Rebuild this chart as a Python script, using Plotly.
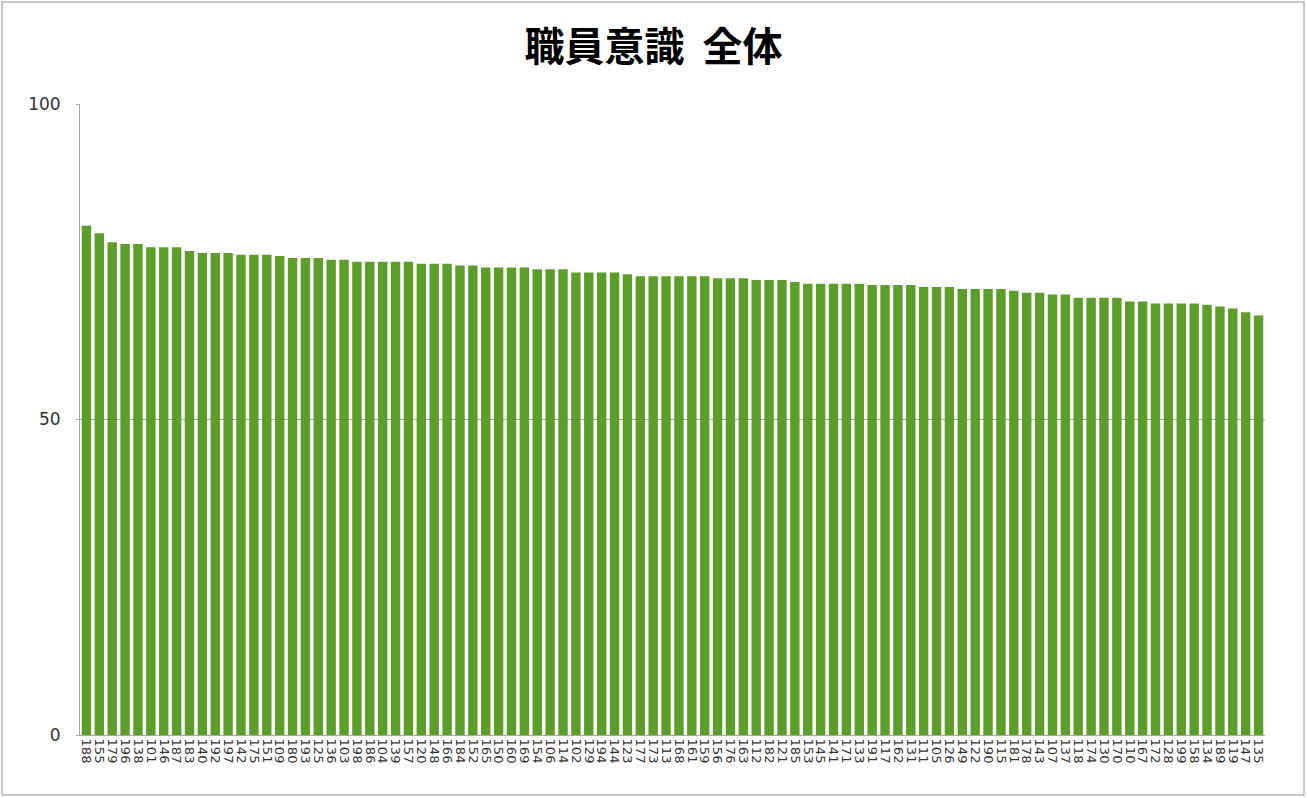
import plotly.graph_objects as go

# Staff survey: overall score per unit, sorted high to low
units = [
    "188", "155", "179", "196", "138", "101", "146", "187", "183", "140",
    "192", "197", "142", "175", "151", "109", "180", "193", "125", "136",
    "103", "198", "186", "104", "139", "157", "120", "148", "166", "184",
    "152", "165", "150", "160", "169", "154", "106", "114", "102", "129",
    "194", "144", "123", "177", "173", "113", "168", "161", "159", "156",
    "176", "163", "112", "182", "121", "185", "153", "145", "141", "171",
    "133", "191", "117", "162", "131", "111", "105", "126", "149", "122",
    "190", "115", "181", "178", "143", "107", "137", "118", "174", "130",
    "170", "110", "167", "172", "128", "199", "158", "134", "189", "119",
    "147", "135",
]
scores = [
    80.7, 79.5, 78.1, 77.8, 77.8, 77.3, 77.3, 77.3, 76.7, 76.4,
    76.4, 76.4, 76.1, 76.1, 76.1, 75.9, 75.6, 75.6, 75.6, 75.3,
    75.3, 75.0, 75.0, 75.0, 75.0, 75.0, 74.7, 74.7, 74.7, 74.4,
    74.4, 74.1, 74.1, 74.1, 74.1, 73.8, 73.8, 73.8, 73.3, 73.3,
    73.3, 73.3, 73.0, 72.7, 72.7, 72.7, 72.7, 72.7, 72.7, 72.4,
    72.4, 72.4, 72.1, 72.1, 72.1, 71.8, 71.5, 71.5, 71.5, 71.5,
    71.5, 71.3, 71.3, 71.3, 71.3, 71.0, 71.0, 71.0, 70.7, 70.7,
    70.7, 70.7, 70.4, 70.1, 70.1, 69.8, 69.8, 69.3, 69.3, 69.3,
    69.3, 68.7, 68.7, 68.4, 68.4, 68.4, 68.4, 68.2, 67.9, 67.6,
    67.0, 66.5,
]
y_ticks = [0, 50, 100]

W, H = 1307, 798
ML, MR, MT, MB = 80, 42, 104, 63
pw, ph = W - ML - MR, H - MT - MB


def px_x(x):
    return (x - ML) / pw


def px_y(y):
    return (H - MB - y) / ph


fig = go.Figure(
    go.Bar(
        x=units,
        y=scores,
        marker=dict(color="#5C9E29", line=dict(width=0)),
        hoverinfo="x+y",
    )
)

fig.update_layout(
    width=W,
    height=H,
    margin=dict(l=ML, r=MR, t=MT, b=MB, autoexpand=False),
    paper_bgcolor="white",
    plot_bgcolor="white",
    bargap=0.27,
    showlegend=False,
    font=dict(family="Noto Sans CJK JP, Noto Sans, sans-serif", color="#333333"),
    title=dict(
        text="<b>職員意識&nbsp; 全体</b>",
        x=0.5,
        xanchor="center",
        y=1 - 47 / H,
        yanchor="middle",
        font=dict(size=40, color="#000000",
                  family="Noto Sans CJK JP, sans-serif"),
    ),
    xaxis=dict(
        type="category",
        tickmode="array",
        tickvals=units,
        ticktext=units,
        tickangle=90,
        tickfont=dict(size=13, color="#333333", family="DejaVu Sans, sans-serif"),
        showgrid=False,
        showline=True,
        linecolor="#a6a6a6",
        linewidth=1,
        ticks="",
        automargin=False,
    ),
    yaxis=dict(
        range=[0, 100],
        tickvals=y_ticks,
        ticktext=[str(v) for v in y_ticks],
        tickfont=dict(size=17, color="#333333", family="DejaVu Sans, sans-serif"),
        showgrid=True,
        gridcolor="#a6a6a6",
        gridwidth=1,
        showline=True,
        linecolor="#a6a6a6",
        linewidth=1,
        ticks="outside",
        ticklen=3,
        tickcolor="#a6a6a6",
        ticklabelstandoff=12,
        zeroline=False,
        automargin=False,
    ),
    shapes=[
        dict(
            type="rect",
            xref="paper", yref="paper",
            x0=px_x(2), x1=px_x(W - 3),
            y0=px_y(H - 3), y1=px_y(2),
            line=dict(color="#b8b8b8", width=1.5),
            fillcolor="rgba(0,0,0,0)",
            layer="below",
        )
    ],
)

fig.write_html("out.html")
